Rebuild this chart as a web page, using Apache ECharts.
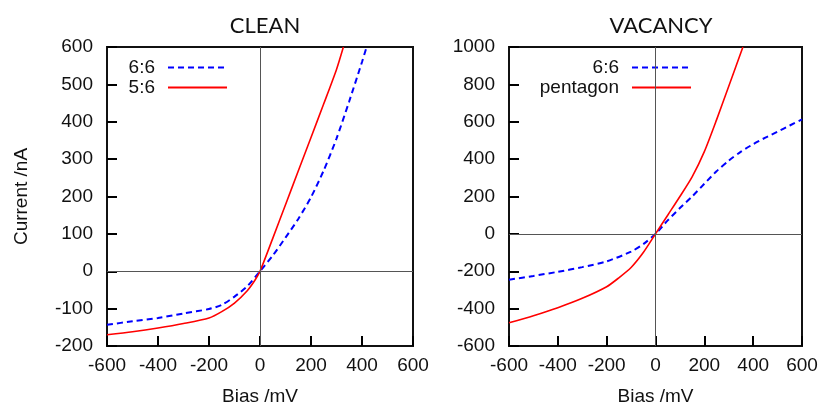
<!DOCTYPE html>
<html>
<head>
<meta charset="utf-8">
<script src="https://cdn.jsdelivr.net/npm/echarts@6/dist/echarts.min.js"></script>
<style>
  html, body { margin: 0; padding: 0; background: #fff; }
  #chart { width: 831px; height: 405px; }
</style>
</head>
<body>
<div id="chart"></div>
<script>
// I-V curves: bias (mV) vs current (nA)

// CLEAN panel
const cleanHexBias    = [-600, -500, -400, -300, -200, -150, -100, -50, 0, 50, 100, 150, 200, 250, 300, 350, 400, 418];
const cleanHexCurrent = [-143, -134, -125, -113, -101, -90, -68, -40, 0, 42, 90, 140, 198, 270, 355, 455, 560, 600];
const cleanPentBias    = [-600, -500, -400, -300, -200, -150, -100, -50, -20, 0, 50, 100, 150, 200, 250, 300, 327];
const cleanPentCurrent = [-170, -162, -152, -140, -125, -108, -85, -52, -24, 0, 88, 178, 268, 358, 448, 540, 600];

// VACANCY panel
const vacHexBias    = [-600, -500, -400, -300, -200, -100, -50, 0, 50, 100, 150, 200, 250, 300, 350, 400, 450, 500, 550, 600];
const vacHexCurrent = [-245, -225, -203, -178, -147, -95, -55, 0, 72, 138, 200, 268, 335, 392, 440, 480, 515, 547, 580, 613];
const vacPentBias    = [-600, -500, -400, -300, -200, -150, -100, -50, 0, 50, 100, 150, 200, 250, 300, 358];
const vacPentCurrent = [-476, -438, -395, -345, -283, -235, -180, -100, 0, 100, 200, 305, 440, 610, 790, 1000];

// Axis ranges and tick steps
const biasTicks = { min: -600, max: 600, interval: 200 };
const cleanTicks = { min: -200, max: 600, interval: 100 };
const vacTicks = { min: -600, max: 1000, interval: 200 };

const panelTitles = ['CLEAN', 'VACANCY'];
const xName = 'Bias /mV';
const yName = 'Current /nA';

const pairs = (xs, ys) => xs.map((x, i) => [x, ys[i]]);

const labelFont = 'Liberation Sans, Arial, sans-serif';
const red = '#ff0000';
const blue = '#0000ff';
const ink = '#111';

function xAxisFor(gridIndex) {
  return {
    type: 'value', gridIndex,
    min: biasTicks.min, max: biasTicks.max, interval: biasTicks.interval,
    name: xName, nameLocation: 'middle', nameGap: 41,
    nameTextStyle: { fontFamily: labelFont, fontSize: 19, color: ink },
    axisLine: { show: true, onZero: false, lineStyle: { color: ink, width: 2 } },
    axisTick: { show: true, inside: true, length: 10, lineStyle: { color: '#000', width: 2 } },
    axisLabel: { fontFamily: labelFont, fontSize: 19, color: ink, margin: 10 },
    splitLine: { show: false }
  };
}

function yAxisFor(gridIndex, ticks, name) {
  return {
    type: 'value', gridIndex,
    min: ticks.min, max: ticks.max, interval: ticks.interval,
    name: name, nameLocation: 'middle', nameGap: 76,
    nameTextStyle: { fontFamily: labelFont, fontSize: 19, color: ink },
    axisLine: { show: true, onZero: false, lineStyle: { color: ink, width: 2 } },
    axisTick: { show: true, inside: true, length: 10, lineStyle: { color: '#000', width: 2 } },
    axisLabel: { fontFamily: labelFont, fontSize: 19, color: ink, margin: 14, formatter: (v) => String(v) },
    splitLine: { show: false }
  };
}

// thin reference lines through the origin
const zeroLines = {
  silent: true,
  symbol: 'none',
  label: { show: false },
  lineStyle: { color: '#555', width: 1, type: 'solid' },
  data: [{ xAxis: 0 }, { yAxis: 0 }]
};

function curve(name, idx, data, color, dashed, withZero) {
  const s = {
    name, type: 'line', xAxisIndex: idx, yAxisIndex: idx,
    data, showSymbol: false, symbol: 'none',
    smooth: 0.25, clip: true,
    lineStyle: dashed
      ? { color, width: 2, type: [6, 4] }
      : { color, width: 1.6, type: 'solid' },
    itemStyle: { color },
    z: 3
  };
  if (withZero) s.markLine = zeroLines;
  return s;
}

const legendBase = {
  orient: 'vertical', align: 'right', padding: 0,
  itemWidth: 59, itemHeight: 14, itemGap: 1,
  itemStyle: { opacity: 0 },
  textStyle: { fontFamily: labelFont, fontSize: 19, color: ink, padding: [0, 8, 0, 0] },
  selectedMode: false
};

const chart = echarts.init(document.getElementById('chart'), null, { renderer: 'canvas' });
chart.setOption({
  backgroundColor: '#fff',
  animation: false,
  title: [
    { text: panelTitles[0], left: 260, top: 10, textAlign: 'center',
      textStyle: { fontFamily: 'Lato, sans-serif', fontSize: 22, fontWeight: 'normal', color: ink } },
    { text: panelTitles[1], left: 656, top: 10, textAlign: 'center',
      textStyle: { fontFamily: 'Lato, sans-serif', fontSize: 22, fontWeight: 'normal', color: ink } }
  ],
  legend: [
    Object.assign({}, legendBase, { data: ['6:6', '5:6'], right: 603, top: 58 }),
    Object.assign({}, legendBase, { data: ['6:6', 'pentagon'], right: 139, top: 58 })
  ],
  grid: [
    { left: 107, right: 418, top: 47, bottom: 59, outerBoundsMode: 'none', show: true, borderColor: ink, borderWidth: 2 },
    { left: 509, right: 29, top: 47, bottom: 59, outerBoundsMode: 'none', show: true, borderColor: ink, borderWidth: 2 }
  ],
  xAxis: [xAxisFor(0), xAxisFor(1)],
  yAxis: [yAxisFor(0, cleanTicks, yName), yAxisFor(1, vacTicks, '')],
  series: [
    curve('6:6', 0, pairs(cleanHexBias, cleanHexCurrent), blue, true, true),
    curve('5:6', 0, pairs(cleanPentBias, cleanPentCurrent), red, false, false),
    curve('6:6', 1, pairs(vacHexBias, vacHexCurrent), blue, true, true),
    curve('pentagon', 1, pairs(vacPentBias, vacPentCurrent), red, false, false)
  ]
});
</script>
</body>
</html>
